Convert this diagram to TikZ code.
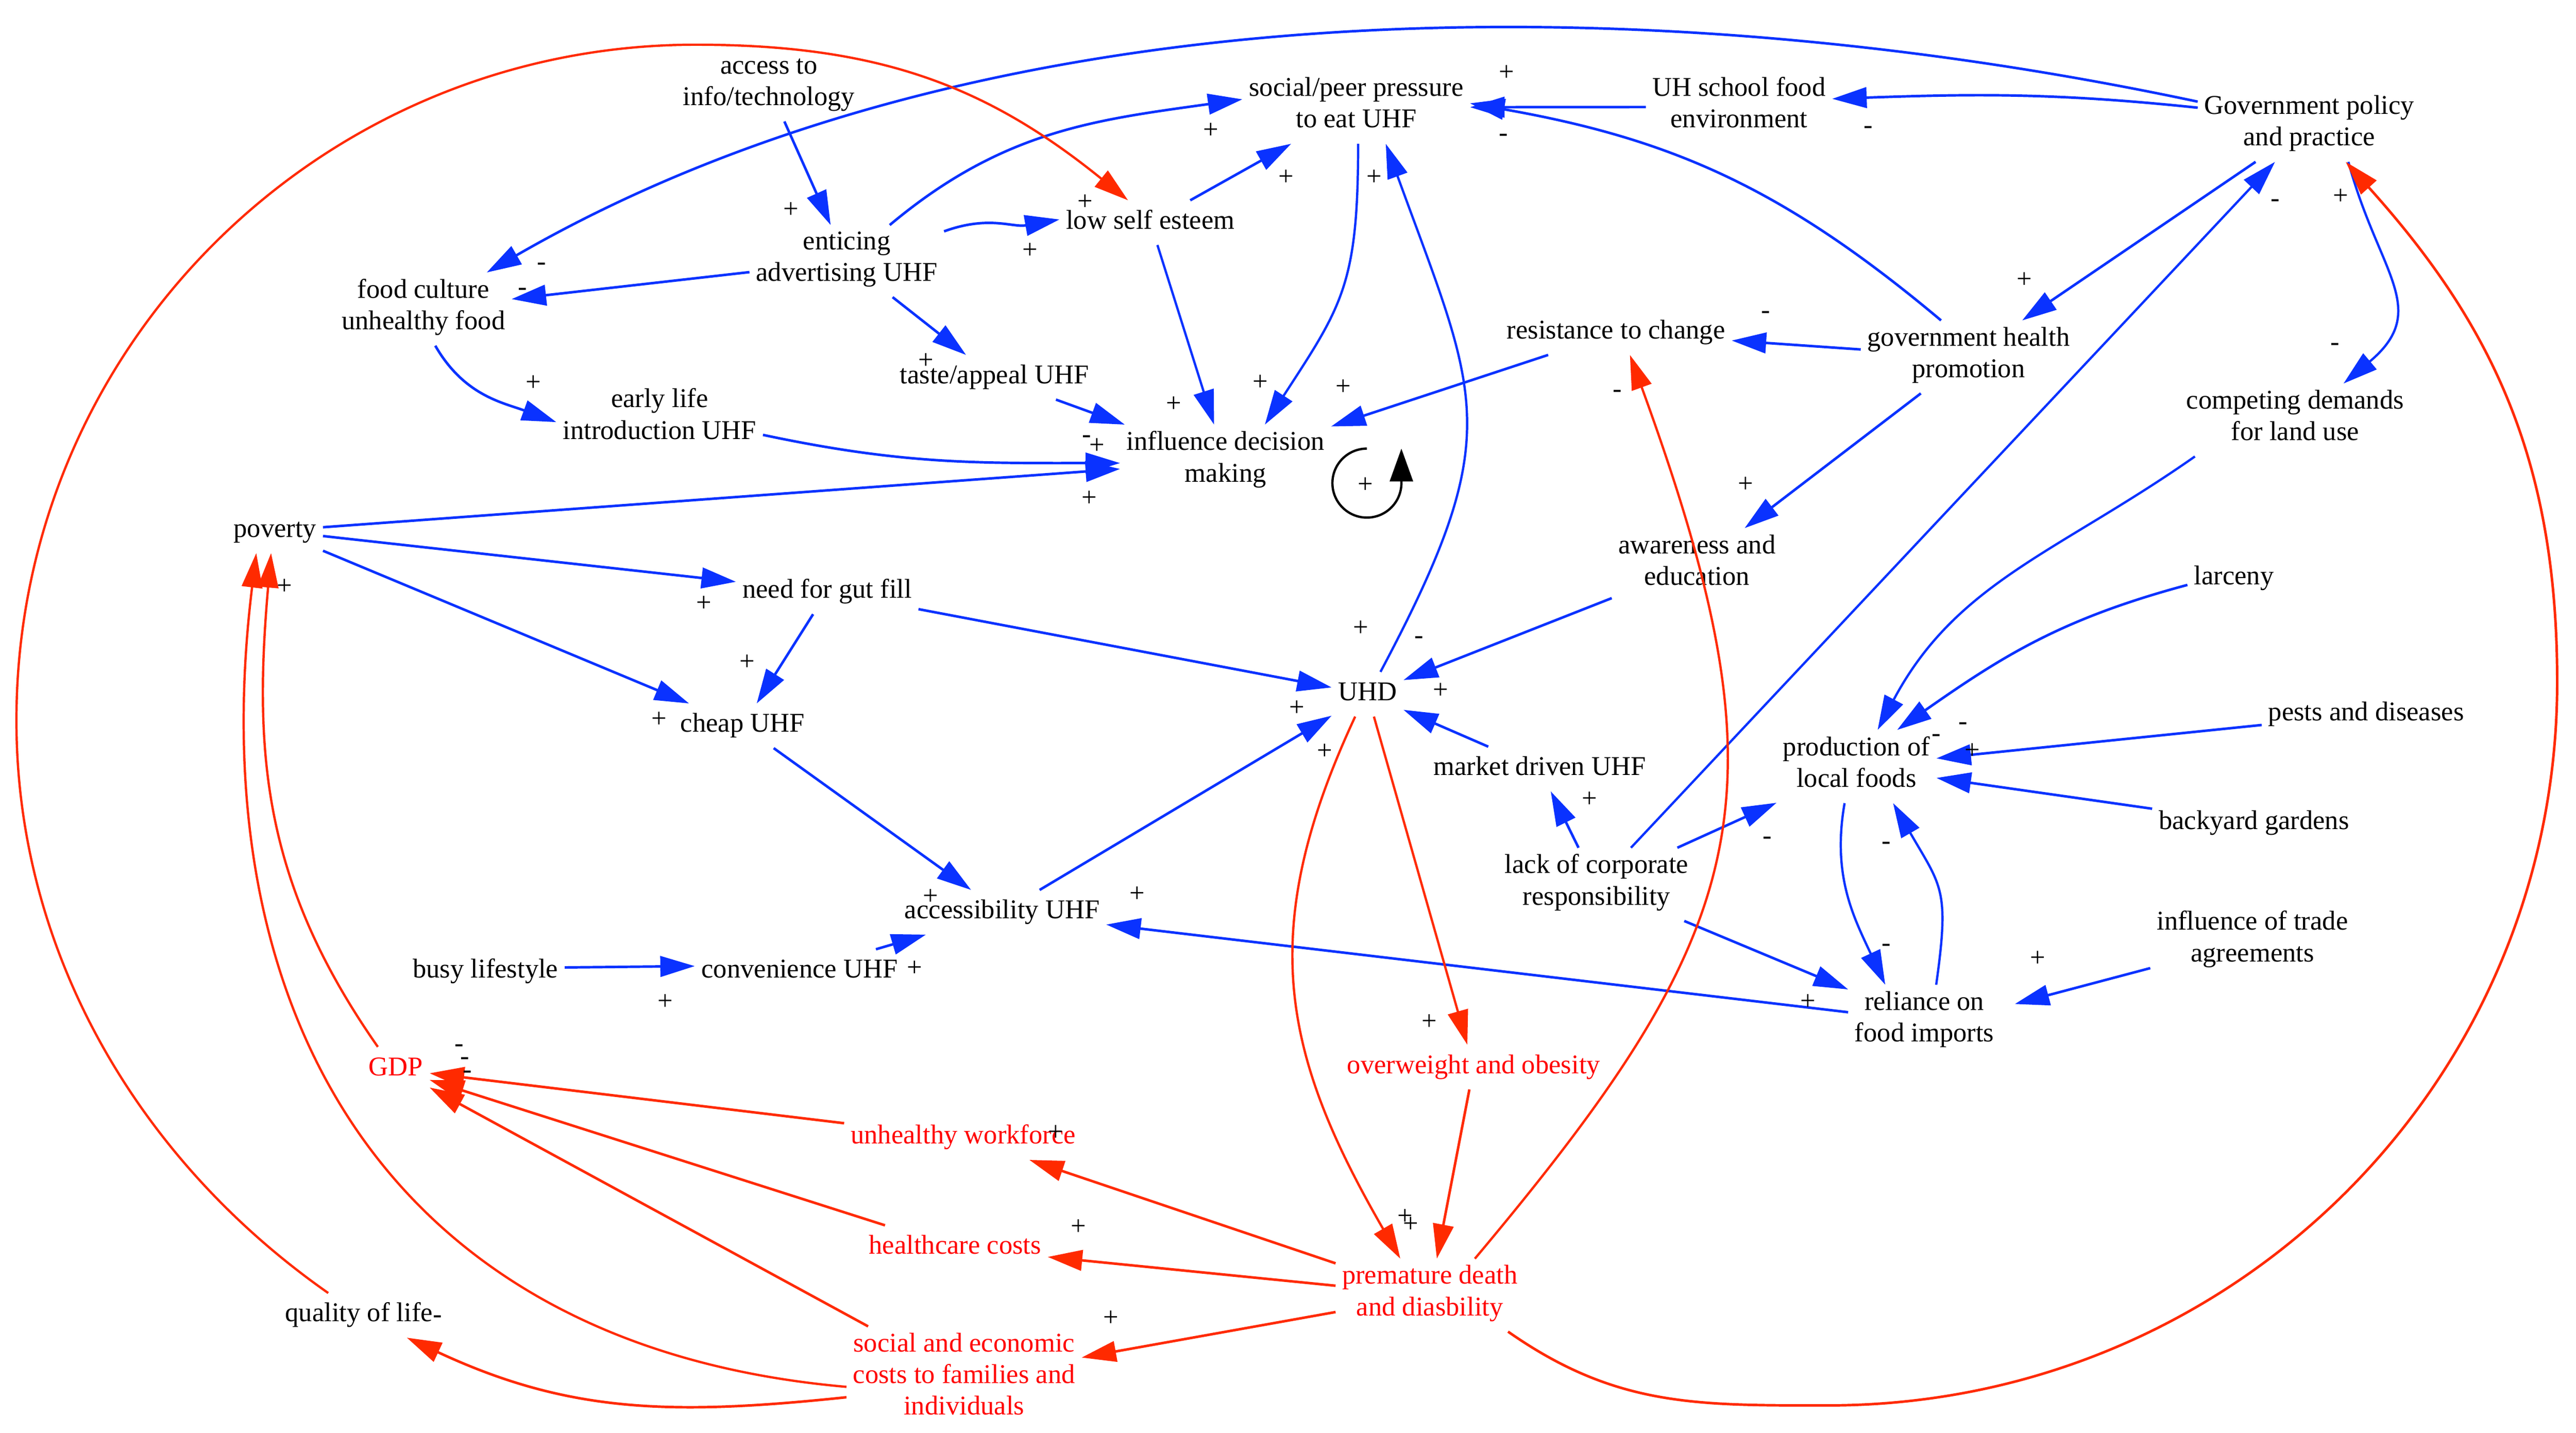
\documentclass[tikz,border=0pt]{standalone}
\usepackage{fontspec}
\setmainfont{Liberation Serif}
\usetikzlibrary{arrows.meta}
\definecolor{cldblue}{RGB}{10,50,255}
\definecolor{cldred}{RGB}{255,42,0}
\definecolor{txtred}{RGB}{255,0,0}
\newcommand{\cldfont}{\fontsize{1.65}{1.92}\selectfont}

\begin{document}
\begin{tikzpicture}[x=0.1pt,y=-0.1pt,
  var/.style={font=\cldfont, align=center, inner sep=0.2pt,
    execute at begin node=\strut, execute at end node=\strut},
  rvar/.style={var, text=txtred},
  sgn/.style={font=\cldfont, inner sep=0pt},
  link/.style={-{Triangle[length=2.1pt,width=1.25pt]}},
  bl/.style={link, draw=cldblue, line width=0.155pt},
  blt/.style={link, draw=cldblue, line width=0.14pt},
  rd/.style={link, draw=cldred, line width=0.155pt},
  rdt/.style={link, draw=cldred, line width=0.14pt}]
\fill[white] (0,0) rectangle (1568,872);
\useasboundingbox (0,0) rectangle (1568,872);

\node[var] (acc) at (468,52.8) {access to\\info/technology};
\node[var] (peer) at (825.5,65.3) {social/peer pressure\\to eat UHF};
\node[var] (school) at (1058.5,65.1) {UH school food\\environment};
\node[var] (gov) at (1405.6,76.3) {Government policy\\and practice};
\node[var] (lse) at (700.2,135.5) {low self esteem};
\node[var] (adv) at (515.4,158.9) {enticing\\advertising UHF};
\node[var] (cult) at (257.7,188.1) {food culture\\unhealthy food};
\node[var] (resist) at (983.6,202.4) {resistance to change};
\node[var] (ghp) at (1198.2,217.2) {government health\\promotion};
\node[var] (taste) at (605.3,229.6) {taste/appeal UHF};
\node[var] (early) at (401.5,254.7) {early life\\introduction UHF};
\node[var] (infl) at (746,280.7) {influence decision\\making};
\node[var] (land) at (1397,255.6) {competing demands\\for land use};
\node[var] (pov) at (167.4,323) {poverty};
\node[var] (aware) at (1032.9,343.6) {awareness and\\education};
\node[var] (larc) at (1359.7,352) {larceny};
\node[var] (gut) at (503.5,360.2) {need for gut fill};
\node[var] (uhd) at (832.4,422.5) {UHD};
\node[var] (cheap) at (452,441.7) {cheap UHF};
\node[var] (pests) at (1440.2,434.7) {pests and diseases};
\node[var] (prod) at (1130,466.5) {production of\\local foods};
\node[var] (market) at (937.2,468) {market driven UHF};
\node[var] (yard) at (1371.9,501) {backyard gardens};
\node[var] (corp) at (971.8,538.2) {lack of corporate\\responsibility};
\node[var] (accs) at (610,555.2) {accessibility UHF};
\node[var] (trade) at (1371,572.7) {influence of trade\\agreements};
\node[var] (busy) at (295.5,591.3) {busy lifestyle};
\node[var] (conv) at (486.7,591.3) {convenience UHF};
\node[var] (relia) at (1171.3,621.5) {reliance on\\food imports};
\node[var] (qol) at (218.5,800.5) {quality of life};
\node[rvar] (obes) at (897,649.4) {overweight and obesity};
\node[rvar] (gdp) at (241,650.7) {GDP};
\node[rvar] (work) at (586.3,692.3) {unhealthy workforce};
\node[rvar] (care) at (581.3,759.3) {healthcare costs};
\node[rvar] (death) at (870.3,788.2) {premature death\\and diasbility};
\node[rvar] (soc) at (586.8,839) {social and economic\\costs to families and\\individuals};

\draw[bl] (acc) -- (adv);
\draw[bl] (gov) to[out=168,in=30,distance=34.8pt] (cult);
\draw[bl] (adv) -- (cult);
\draw[bl] (adv) to[out=40,in=188,distance=9pt] (peer.176);
\draw[bl] (adv.17) to[out=20,in=190,distance=2.9pt] (lse.178);
\draw[bl] (adv) -- (taste);
\draw[bl] (lse) -- (peer);
\draw[bl] (school) -- (peer);
\draw[bl] (gov.171) to[out=174,in=2,distance=8.7pt] (school.5);
\draw[bl] (ghp.127) to[out=140,in=-10,distance=12.5pt] (peer.2);
\draw[bl] (gov) -- (ghp);
\draw[bl] (ghp) -- (resist);
\draw[bl] (ghp) -- (aware);
\draw[bl] (resist) -- (infl);
\draw[bl] (taste) -- (infl);
\draw[bl] (cult.-72) to[out=-60,in=160,distance=3.5pt] (early.182);
\draw[bl] (early.-9) to[out=-12,in=180,distance=8.7pt] (infl.181);
\draw[bl] (pov) -- (infl);
\draw[bl] (pov) -- (gut);
\draw[bl] (pov) -- (cheap);
\draw[bl] (gut) -- (cheap);
\draw[bl] (gut) -- (uhd);
\draw[bl] (aware) -- (uhd);
\draw[bl] (market) -- (uhd);
\draw[bl] (accs) -- (uhd);
\draw[bl] (cheap) -- (accs);
\draw[bl] (conv) -- (accs);
\draw[bl] (busy.3) -- (conv.177);
\draw[bl] (relia) -- (accs);
\draw[bl] (corp) -- (market);
\draw[bl] (corp) -- (prod);
\draw[bl] (corp) -- (relia);
\draw[bl] (larc.188) to[out=195,in=35,distance=7.9pt] (prod.42);
\draw[bl] (pests) -- (prod);
\draw[bl] (yard) -- (prod);
\draw[bl,shorten >=0.9pt] (trade) -- (relia.10);
\draw[blt] (lse) -- (infl);
\draw[blt] (peer.-87) to[out=-90,in=57,distance=8.6pt] (infl.43);
\draw[blt] (uhd.60) to[out=62,in=-70,distance=16.5pt] (peer.-51);
\draw[blt] (corp) -- (gov);
\draw[blt] (gov.-43) to[out=-75,in=40,distance=7pt] (land.37);
\draw[blt] (land.200) to[out=215,in=62,distance=10.2pt] (prod.60);
\draw[blt] (prod.-108) to[out=-100,in=115,distance=4.5pt] (relia.137);
\draw[blt] (relia.72) to[out=82,in=-60,distance=5.9pt] (prod.-45);

\draw[rdt] (uhd) -- (obes);
\draw[rdt] (uhd.241) to[out=245,in=120,distance=14.4pt] (death.129);
\draw[rdt] (death.39) to[out=50,in=-70,out distance=26.4pt,in distance=28.6pt] (resist.-58);
\draw[rdt] (gdp.129) to[out=125,in=-95,distance=12.2pt] (pov.-100);
\draw[rdt] (soc.184) to[out=175,in=-97,distance=28.1pt] (pov.-130);
\draw[rdt] (qol.144) to[out=145,in=-90,distance=14.1pt] (10,438.5)
  to[out=90,in=180,distance=22.8pt] (423.5,27.2)
  to[out=0,in=141,distance=11.1pt] (lse.135);
\draw[rd] (obes) -- (death);
\draw[rd] (death) -- (work);
\draw[rd] (death) -- (care);
\draw[rd] (death) -- (soc);
\draw[rd] (work) -- (gdp);
\draw[rd] (care) -- (gdp);
\draw[rd] (soc) -- (gdp);
\draw[rd] (soc.189) to[out=186,in=-25,distance=10.8pt] (qol.-25);
\draw[rd] (death.-25) to[out=-35,in=180,distance=8pt] (1112.7,855.3)
  to[out=0,in=-90,distance=24.5pt] (1556.5,415)
  to[out=90,in=-48,distance=13.4pt] (gov.-45);

\draw[line width=0.14pt,-{Triangle[length=2pt,width=1.4pt]}] (832,273)
  arc[start angle=90,end angle=360,radius=2.1pt] -- ++(0,-21);
\node[sgn] (loop) at (831.2,295.4) {+};

\foreach \sx/\sy [count=\i] in {481.4/127.7, 917/44.5, 736.9/79.4, 782.8/108,
  836.3/108, 660.4/123, 627.1/152.5, 563.7/219.7, 767.1/232.9, 817.5/235.7,
  714.6/246, 667.6/271.4, 324.8/233.2, 1424.7/119.6, 1232.3/170.5, 663.1/303.3,
  828.4/382.6, 876.8/420.3, 789.3/431.2, 806.2/457.5, 967.4/486.5, 566.4/545.9,
  692.3/544.3, 1062.4/295, 1200.4/457.1, 1240.3/583.5, 173.1/357.2, 428.5/367.3,
  454.7/403.2, 401.1/438.1, 405.1/609.8, 556.8/589.4, 870/622.1, 642.5/689.5,
  656.3/747, 676.2/802.2, 855.2/740.5, 858.6/745.2, 1100.6/609.8}
  \node[sgn] (plus\i) at (\sx,\sy) {+};
\foreach \sx/\sy [count=\i] in {915.2/83.7, 1137/79, 329.8/162.2, 318/177.6,
  984.5/239.7, 661.4/267.3, 1384.9/123.7, 1074.6/191.6, 1421.3/211, 863.8/389.7,
  1194.9/442.1, 1178.6/449.3, 1075.6/511.6, 1148.1/514.6, 1148.1/576.7,
  279.6/637.8, 283/645.8, 284.6/653.9, 266.3/802.9}
  \node[sgn] (minus\i) at (\sx,\sy) {-};
\end{tikzpicture}
\end{document}
